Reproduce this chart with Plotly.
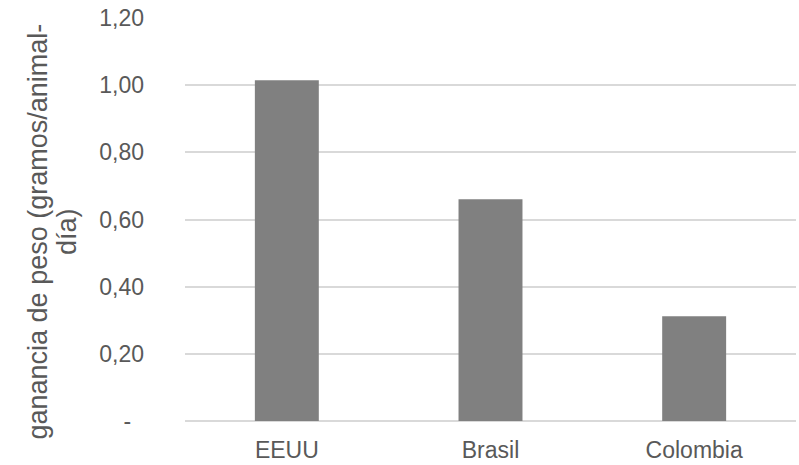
import plotly.graph_objects as go

categories = ["EEUU", "Brasil", "Colombia"]
values = [1.015, 0.66, 0.312]
tick_vals = [0, 0.2, 0.4, 0.6, 0.8, 1.0, 1.2]
tick_text = ["-\u00a0\u00a0", "0,20", "0,40", "0,60", "0,80", "1,00", "1,20"]
y_title_lines = ["ganancia de peso (gramos/animal-", "día)"]

FONT = "Liberation Sans, Arial, sans-serif"
TXT = "#595959"
L, T, PW, PH = 185, 18, 611, 403

fig = go.Figure(go.Bar(x=categories, y=values, marker=dict(color="#808080", line=dict(width=0))))

title_x_px = [37, 66.5]
title_y_px = 231.5
annotations = []
for line, xp in zip(y_title_lines, title_x_px):
    annotations.append(dict(text=line, xref="paper", yref="paper",
                            x=(xp - L) / PW, y=(T + PH - title_y_px) / PH,
                            xanchor="center", yanchor="middle", textangle=-90,
                            showarrow=False, font=dict(size=27, color=TXT, family=FONT)))

fig.update_layout(
    template="none",
    width=799, height=465,
    margin=dict(l=L, r=799 - L - PW, t=T, b=465 - T - PH, autoexpand=False),
    paper_bgcolor="white", plot_bgcolor="white",
    bargap=0.686,
    showlegend=False,
    font=dict(family=FONT, size=23, color=TXT),
    xaxis=dict(showgrid=False, showline=False, zeroline=False, ticks="", automargin=False,
               tickfont=dict(size=23, color=TXT), ticklabelstandoff=13),
    yaxis=dict(range=[0, 1.2], tickvals=tick_vals, ticktext=tick_text, automargin=False,
               showgrid=True, gridcolor="#d9d9d9", gridwidth=1.5,
               zeroline=True, zerolinecolor="#d9d9d9", zerolinewidth=1.5,
               showline=False, ticks="", ticklabelstandoff=40,
               tickfont=dict(size=23, color=TXT)),
    annotations=annotations,
)

# remove the page's default body margin so the figure sits at the window's corner
fig.write_html("out.html", config={"displayModeBar": False},
               post_script="document.body.style.margin='0px';")
